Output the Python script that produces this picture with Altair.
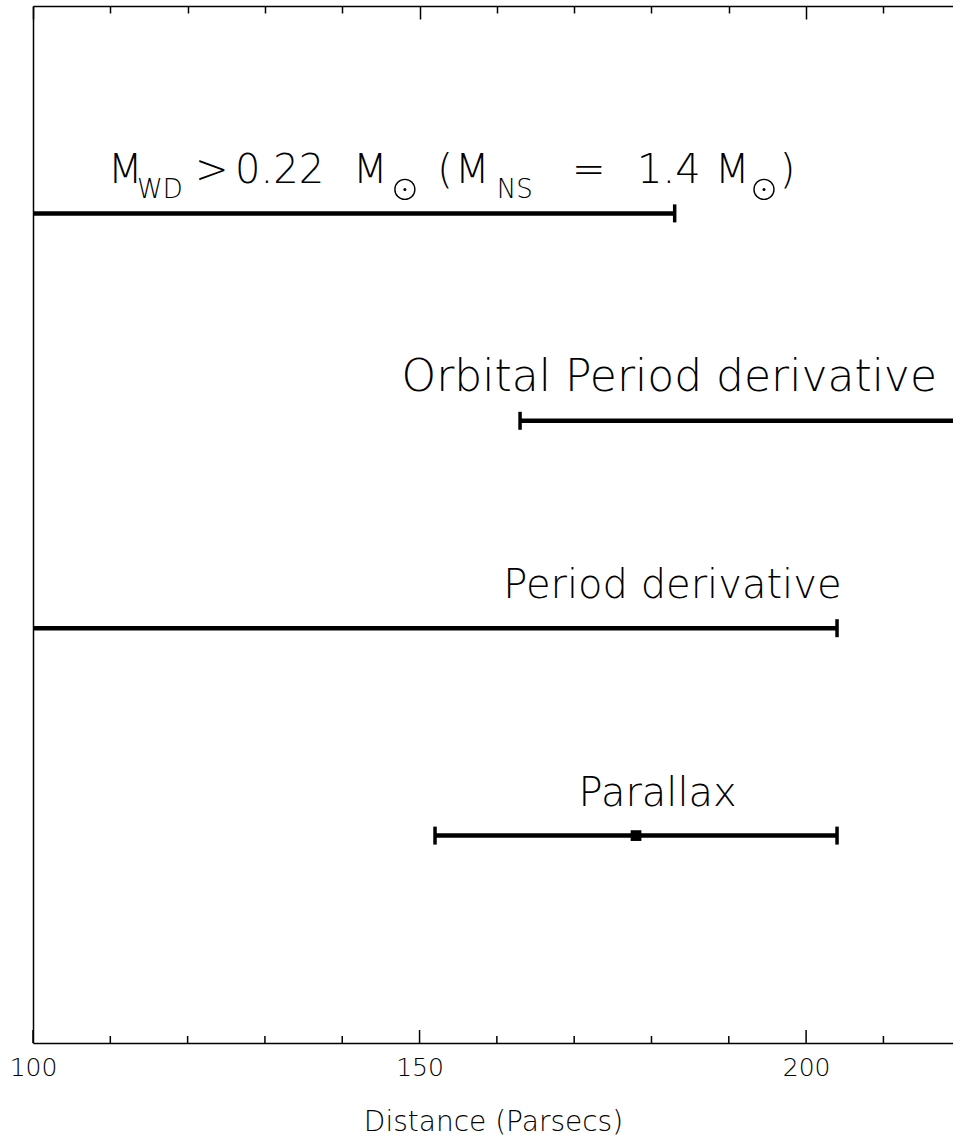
import altair as alt
import pandas as pd

# Distance limits (parsecs) from each method; None = open-ended bound
methods = ["mass", "orbital", "period", "parallax"]
levels = [4, 3, 2, 1]
lower = [None, 163, None, 152]
upper = [183, None, 204, 204]
best = [None, None, None, 178]

# plain labels above the bars (centred)
labels = ["Orbital Period derivative", "Period derivative", "Parallax"]
label_levels = [3, 2, 1]
label_x = [182.3, 182.7, 180.8]
label_sizes = [44, 40, 40]

# mass-function label, built from pieces (left edge in parsecs)
mass_text = ["M", "WD", ">", "0.22", "M", "(", "M", "NS", "=", "1.4", "M", ")"]
mass_text_x = [109.7, 113.45, 120.95, 126.13, 141.39, 152.3, 154.6,
               160.0, 169.72, 178.13, 188.22, 196.6]
mass_is_sub = [False, True, False, False, False, False, False, True,
               False, False, False, False]
sun_x = [148.1, 194.55]
mass_level = 4

x_min, x_max = 100, 219
y_min, y_max = 0, 5
major_ticks = [100, 150, 200]
minor_ticks = [110, 120, 130, 140, 160, 170, 180, 190, 210]

FONT = "DejaVu Sans"
W, H = 920, 1037

bars = pd.DataFrame({
    "method": methods,
    "level": levels,
    "lo": [x_min if v is None else v for v in lower],
    "hi": [x_max if v is None else v for v in upper],
})
caps = pd.DataFrame(
    [{"x": v, "level": lv} for lo, hi, lv in zip(lower, upper, levels)
     for v in (lo, hi) if v is not None]
)
points = pd.DataFrame(
    [{"x": b, "level": lv} for b, lv in zip(best, levels) if b is not None]
)
lab = pd.DataFrame({"text": labels, "x": label_x, "level": label_levels,
                    "size": label_sizes})
mass = pd.DataFrame({"text": mass_text, "x": mass_text_x, "sub": mass_is_sub,
                     "level": mass_level})
suns = pd.DataFrame({"x": sun_x, "level": mass_level})

# bottom frame ticks, with their length in pixels
tick_rows = [{"x": v, "y": y_min, "len": 13} for v in major_ticks] + \
            [{"x": v, "y": y_min, "len": 7} for v in minor_ticks]
ticks = pd.DataFrame(tick_rows)
all_ticks = pd.DataFrame({"x": major_ticks + minor_ticks})

xs = alt.Scale(domain=[x_min, x_max], nice=False, zero=False)
ys = alt.Scale(domain=[y_min, y_max], nice=False, zero=False)

base = alt.Chart(bars).mark_rule(strokeWidth=4.5, color="black").encode(
    x=alt.X("lo:Q", scale=xs, axis=alt.Axis(
        title="Distance (Parsecs)", values=major_ticks, format="d",
        orient="bottom", ticks=False, grid=False, domain=True,
        domainColor="black", domainWidth=1.5,
        labelFont=FONT, labelFontSize=25, labelFontWeight=200,
        labelColor="black", labelPadding=12, labelFlush=False,
        titleFont=FONT, titleFontSize=28, titleFontWeight=200,
        titleColor="black", titlePadding=28)),
    x2="hi:Q",
    y=alt.Y("level:Q", scale=ys, axis=alt.Axis(
        title="", ticks=False, labels=False, grid=False, domain=True,
        domainColor="black", domainWidth=1.5)),
)

cap_marks = alt.Chart(caps).mark_rule(
    strokeWidth=3.5, color="black", yOffset=-9, y2Offset=9
).encode(x="x:Q", y="level:Q", y2="level:Q")

point_marks = alt.Chart(points).mark_square(
    size=115, color="black", opacity=1
).encode(x="x:Q", y="level:Q")

label_marks = alt.Chart(lab).mark_text(
    align="center", baseline="alphabetic", dy=-30, font=FONT,
    fontWeight=200, color="black"
).encode(x="x:Q", y="level:Q", text="text:N",
         size=alt.Size("size:Q", scale=None, legend=None))

mass_main = alt.Chart(mass).transform_filter("!datum.sub").mark_text(
    align="left", baseline="alphabetic", dy=-30, font=FONT,
    fontSize=40, fontWeight=200, color="black"
).encode(x="x:Q", y="level:Q", text="text:N")

mass_sub = alt.Chart(mass).transform_filter("datum.sub").mark_text(
    align="left", baseline="alphabetic", dy=-15, font=FONT,
    fontSize=26, fontWeight=200, color="black"
).encode(x="x:Q", y="level:Q", text="text:N")

sun_ring = alt.Chart(suns).mark_point(
    shape="circle", size=400, filled=False, strokeWidth=1.4,
    color="black", opacity=1, yOffset=-24
).encode(x="x:Q", y="level:Q")
sun_dot = alt.Chart(suns).mark_circle(
    size=9, color="black", opacity=1, yOffset=-24
).encode(x="x:Q", y="level:Q")

# inward ticks on the bottom edge
tick_marks = alt.Chart(ticks).transform_calculate(
    y2=f"datum.y + datum.len * {y_max - y_min} / {H}"
).mark_rule(strokeWidth=1.5, color="black").encode(
    x="x:Q", y="y:Q", y2="y2:Q")

main = alt.layer(
    base, cap_marks, point_marks, label_marks, mass_main, mass_sub,
    sun_ring, sun_dot, tick_marks,
)


def top_axis(values, length, with_domain):
    # top frame edge with inward ticks: the axis is pulled down into the
    # plot by the tick length so its outward ticks end at the edge
    return alt.Chart(all_ticks).mark_point(opacity=0).encode(
        x=alt.X("x:Q", scale=xs, axis=alt.Axis(
            orient="top", values=values, tickSize=length, offset=-length,
            tickColor="black", tickWidth=1.5, ticks=True, labels=False,
            grid=False, domain=False, title="")))


top_edge = alt.Chart(all_ticks).mark_point(opacity=0).encode(
    x=alt.X("x:Q", scale=xs, axis=alt.Axis(
        orient="top", values=major_ticks, ticks=False, labels=False,
        grid=False, domain=True, domainColor="black", domainWidth=1.5,
        title="")))

chart = alt.layer(
    main, top_edge,
    top_axis(major_ticks, 13, False), top_axis(minor_ticks, 7, False),
).resolve_axis(x="independent").properties(
    width=W, height=H,
    padding={"left": 33, "top": 6, "right": 0, "bottom": 103},
    autosize=alt.AutoSizeParams(type="none"),
    background="white",
).configure_view(stroke=None)

chart.save("out.html", embed_options={"renderer": "svg", "actions": False})
